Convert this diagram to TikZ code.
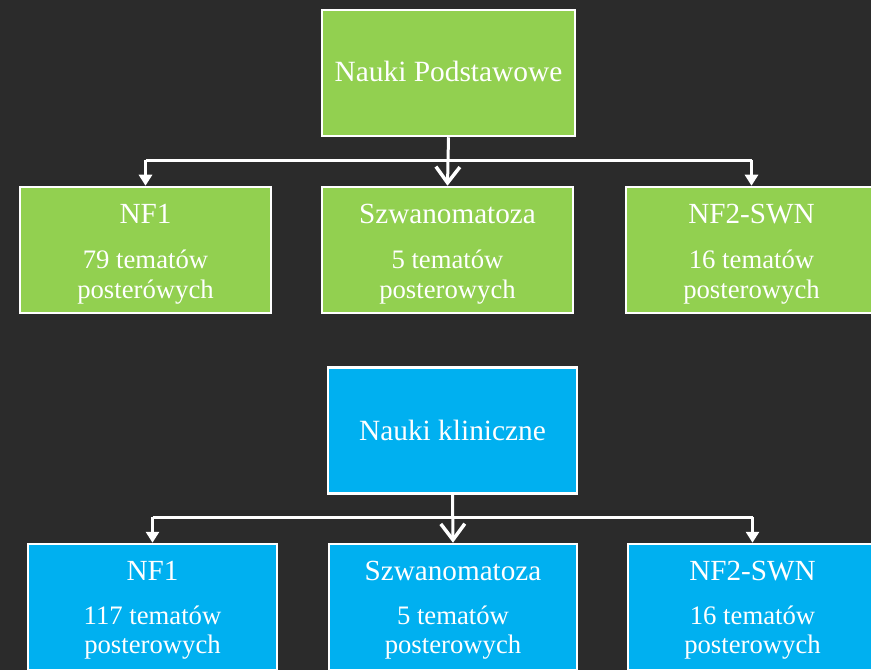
\documentclass[tikz,border=0pt]{standalone}
\usepackage{fontspec}
\setmainfont{Liberation Serif}
\usetikzlibrary{arrows.meta}
\definecolor{bg}{HTML}{2B2B2B}
\definecolor{gr}{HTML}{92D050}
\definecolor{bl}{HTML}{00B0F0}
\tikzset{
  box/.style={draw=white, line width=2.5bp, minimum width=#1, minimum height=126bp, inner sep=0pt},
  big/.style={text=white, anchor=base, inner sep=0pt, font=\fontsize{29.5}{30}\selectfont},
  mid/.style={text=white, anchor=base, inner sep=0pt, font=\fontsize{29.3}{30}\selectfont},
  sub/.style={text=white, anchor=base, inner sep=0pt, font=\fontsize{26.8}{30}\selectfont},
  conn/.style={draw=white, line width=3bp},
  bigarrow/.style={conn, -{Straight Barb[length=16bp,width=24bp,line width=3.5bp]}},
  smallarrow/.style={conn, -{Triangle[length=11bp,width=13bp]}}
}
\begin{document}
\begin{tikzpicture}[x=1bp,y=-1bp]
\useasboundingbox (0,0) rectangle (871,670);
\clip (0,0) rectangle (871,670);
\fill[bg] (0,0) rectangle (871,670);
% ---- top group
\node[box=253bp, fill=gr] (top) at (448.5,73) {};
\node[big] (toplbl) at (448.5,82) {Nauki Podstawowe};
\node[box=251bp, fill=gr] (a1) at (145.5,250) {};
\node[box=251bp, fill=gr] (a2) at (447.5,250) {};
\node[box=251bp, fill=gr] (a3) at (751.5,250) {};
\node[mid] (a1t) at (145.5,223) {NF1};
\node[sub] (a1s) at (145.5,268) {79 tematów};
\node[sub] (a1u) at (145.5,298) {posterówych};
\node[mid] (a2t) at (447.5,223) {Szwanomatoza};
\node[sub] (a2s) at (447.5,268) {5 tematów};
\node[sub] (a2u) at (447.5,298) {posterowych};
\node[mid] (a3t) at (751.5,223) {NF2-SWN};
\node[sub] (a3s) at (751.5,268) {16 tematów};
\node[sub] (a3u) at (751.5,298) {posterowych};
\coordinate (h1) at (145.5,160);
\coordinate (h3) at (751.5,160);
\draw[conn] (h1) -- (h3);
\draw[bigarrow] (top.south) -- (a2.north);
\draw[smallarrow] (h1) -- (a1.north);
\draw[smallarrow] (h3) -- (a3.north);
% ---- bottom group
\node[box=249bp, fill=bl] (bot) at (452.5,430.5) {};
\node[big] (botlbl) at (452.5,440) {Nauki kliniczne};
\node[box=249bp, fill=bl] (b1) at (152.5,607) {};
\node[box=248bp, fill=bl] (b2) at (453,607) {};
\node[box=249bp, fill=bl] (b3) at (752.5,607) {};
\node[mid] (b1t) at (152.5,580) {NF1};
\node[sub] (b1s) at (152.5,624) {117 tematów};
\node[sub] (b1u) at (152.5,653) {posterowych};
\node[mid] (b2t) at (453,580) {Szwanomatoza};
\node[sub] (b2s) at (453,624) {5 tematów};
\node[sub] (b2u) at (453,653) {posterowych};
\node[mid] (b3t) at (752.5,580) {NF2-SWN};
\node[sub] (b3s) at (752.5,624) {16 tematów};
\node[sub] (b3u) at (752.5,653) {posterowych};
\coordinate (k1) at (152.5,517);
\coordinate (k3) at (752.5,517);
\draw[conn] (k1) -- (k3);
\draw[bigarrow] (bot.south) -- (b2.north);
\draw[smallarrow] (k1) -- (b1.north);
\draw[smallarrow] (k3) -- (b3.north);
\end{tikzpicture}
\end{document}
